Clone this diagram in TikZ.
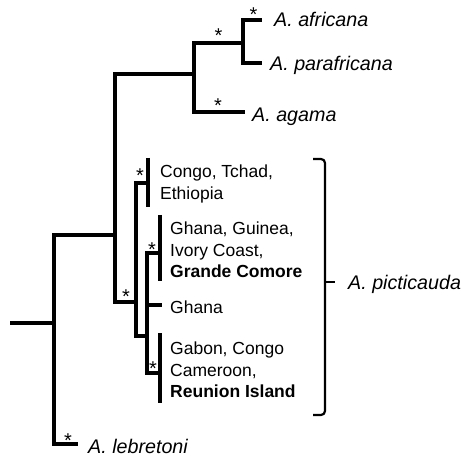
\documentclass[tikz,border=0pt]{standalone}
\usepackage{fontspec}
\setmainfont{Liberation Sans}
\usepackage{tikz}

\begin{document}
\begin{tikzpicture}[x=1pt,y=-1pt,
  branch/.style={line width=3.4pt,line join=miter},
  taxon/.style={inner sep=0pt,anchor=base west,font=\fontsize{19.7}{23}\selectfont\itshape},
  locality/.style={inner sep=0pt,anchor=west,align=left,font=\fontsize{17.5}{21.5}\selectfont},
  support/.style={inner sep=0pt,anchor=base,font=\fontsize{20}{20}\selectfont}]
  \useasboundingbox (0,0) rectangle (463,457);
  \coordinate (stem) at (10,323);
  \coordinate (root) at (54,323);
  \coordinate (ingroup) at (115,235);
  \coordinate (africanus) at (194,74);
  \coordinate (sister) at (243,43);
  \coordinate (picti) at (136,302);
  \coordinate (nested) at (147,336);
  \coordinate (congoclade) at (148,183);
  \coordinate (comoreclade) at (160,253);
  \coordinate (reunionclade) at (160,373);
  \coordinate (tipAfricana) at (262,20);
  \coordinate (tipParafricana) at (262,63);
  \coordinate (tipAgama) at (245,112);
  \coordinate (tipGhana) at (162,305);
  \coordinate (tipLebretoni) at (78,444);
  \draw[branch] (stem) -- (root);
  \draw[branch] (root) |- (ingroup);
  \draw[branch] (root) |- (tipLebretoni);
  \draw[branch] (ingroup) |- (africanus);
  \draw[branch] (ingroup) |- (picti);
  \draw[branch] (africanus) |- (sister);
  \draw[branch] (africanus) |- (tipAgama);
  \draw[branch] (sister) |- (tipAfricana);
  \draw[branch] (sister) |- (tipParafricana);
  \draw[branch] (picti) |- (congoclade);
  \draw[branch] (picti) |- (nested);
  \draw[branch] (nested) |- (comoreclade);
  \draw[branch] (nested) |- (tipGhana);
  \draw[branch] (nested) |- (reunionclade);
  \draw[branch] (148,158) -- (148,207);
  \draw[branch] (160,215) -- (160,281);
  \draw[branch] (160,333) -- (160,403);
  \node[taxon] (africana) at (274,27) {A. africana};
  \node[taxon] (parafricana) at (270,71) {A. parafricana};
  \node[taxon] (agama) at (252,122) {A. agama};
  \node[taxon] (lebretoni) at (88,453) {A. lebretoni};
  \node[locality] (congo) at (160,184) {Congo, Tchad,\\Ethiopia};
  \node[locality] (comore) at (170,250) {Ghana, Guinea,\\Ivory Coast,\\\textbf{Grande Comore}};
  \node[locality] (ghana) at (170,307) {Ghana};
  \node[locality] (reunion) at (170,370) {Gabon, Congo\\Cameroon,\\\textbf{Reunion Island}};
  \draw[line width=2.2pt,rounded corners=4pt] (313,159) -- (325,159) -- (325,415) -- (313,415);
  \draw[line width=2.2pt] (325,282) -- (335,282);
  \node[taxon] (picticauda) at (348,289) {A. picticauda};
  \node[support] at (253.5,22) {*};
  \node[support] at (218.5,43) {*};
  \node[support] at (218,112.5) {*};
  \node[support] at (140,182.5) {*};
  \node[support] at (126,303.5) {*};
  \node[support] at (152,256.5) {*};
  \node[support] at (153,375.5) {*};
  \node[support] at (68,447.5) {*};
\end{tikzpicture}
\end{document}
